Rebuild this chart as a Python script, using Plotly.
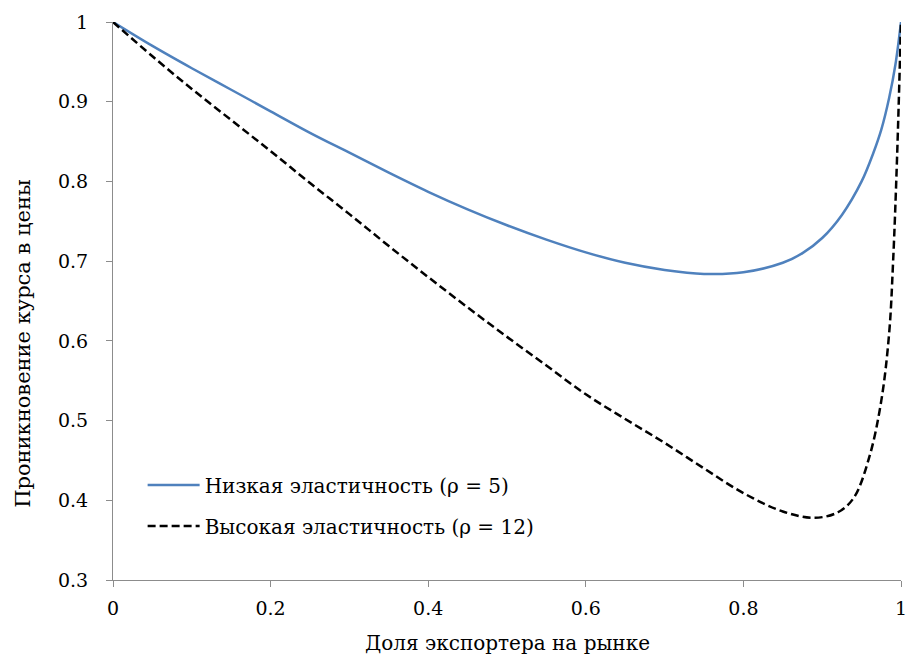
import plotly.graph_objects as go

# Series: low elasticity (rho = 5)
x_low = [0, 0.05, 0.1, 0.15, 0.2, 0.25, 0.3, 0.35, 0.4, 0.45, 0.5, 0.55, 0.6, 0.65, 0.7,
         0.75, 0.8, 0.85, 0.875, 0.9, 0.925, 0.95, 0.965, 0.975, 0.985, 0.993, 1.0]
y_low = [1.0, 0.970, 0.942, 0.915, 0.888, 0.861, 0.836, 0.811, 0.787, 0.765, 0.745, 0.727,
         0.711, 0.698, 0.689, 0.684, 0.686, 0.698, 0.710, 0.729, 0.758, 0.800, 0.836, 0.865,
         0.905, 0.947, 1.0]

# Series: high elasticity (rho = 12)
x_high = [0, 0.05, 0.1, 0.15, 0.2, 0.25, 0.3, 0.35, 0.4, 0.45, 0.5, 0.55, 0.6, 0.65, 0.7,
          0.75, 0.8, 0.85, 0.89, 0.92, 0.94, 0.96, 0.975, 0.985, 0.99, 0.995, 1.0]
y_high = [1.0, 0.957, 0.916, 0.877, 0.838, 0.798, 0.759, 0.719, 0.680, 0.642, 0.605, 0.569,
          0.533, 0.502, 0.472, 0.440, 0.409, 0.386, 0.378, 0.385, 0.403, 0.455, 0.525, 0.610,
          0.700, 0.830, 1.0]

x_ticks = [0, 0.2, 0.4, 0.6, 0.8, 1]
x_tick_labels = ["0", "0.2", "0.4", "0.6", "0.8", "1"]
y_ticks = [0.3, 0.4, 0.5, 0.6, 0.7, 0.8, 0.9, 1.0]
y_tick_labels = ["0.3", "0.4", "0.5", "0.6", "0.7", "0.8", "0.9", "1"]

names = ["Низкая эластичность (ρ = 5)", "Высокая эластичность (ρ = 12)"]
x_title = "Доля экспортера на рынке"
y_title = "Проникновение курса в цены"

FONT = "DejaVu Serif"
AXIS_COLOR = "#8c8c8c"

fig = go.Figure()
fig.add_trace(go.Scatter(x=x_low, y=y_low, mode="lines", name=names[0], legendgroup="a",
                         line=dict(color="#4f81bd", width=2.5, shape="spline", smoothing=1)))
fig.add_trace(go.Scatter(x=x_high, y=y_high, mode="lines", name=names[1], legendgroup="b",
                         line=dict(color="black", width=2.5, dash="8px,4px",
                                   shape="spline", smoothing=1)))

fig.update_layout(
    width=908, height=656,
    margin=dict(l=113, r=1, t=22, b=76),
    paper_bgcolor="white", plot_bgcolor="white",
    font=dict(family=FONT, size=19, color="black"),
    showlegend=True,
    legend=dict(x=0.0376, y=0.205, xanchor="left", yanchor="top",
                bgcolor="rgba(0,0,0,0)", font=dict(family=FONT, size=20),
                tracegroupgap=12, itemwidth=52),
    xaxis=dict(range=[0, 1], tickmode="array", tickvals=x_ticks, ticktext=x_tick_labels,
               showgrid=False, zeroline=False, showline=True, linecolor=AXIS_COLOR,
               linewidth=1, ticks="outside", ticklen=6, tickcolor=AXIS_COLOR,
               ticklabelstandoff=5, ticklabeloverflow="allow",
               tickfont=dict(family=FONT, size=19)),
    yaxis=dict(range=[0.3, 1], tickmode="array", tickvals=y_ticks, ticktext=y_tick_labels,
               showgrid=False, zeroline=False, showline=True, linecolor=AXIS_COLOR,
               linewidth=1, ticks="outside", ticklen=6, tickcolor=AXIS_COLOR,
               ticklabelstandoff=14,
               tickfont=dict(family=FONT, size=19)),
    annotations=[
        dict(text=x_title, xref="paper", yref="paper", x=0.5, y=-0.088,
             xanchor="center", yanchor="top", showarrow=False,
             font=dict(family=FONT, size=20)),
        dict(text=y_title, xref="paper", yref="paper", x=-0.132, y=0.425,
             xanchor="left", yanchor="middle", textangle=-90, showarrow=False,
             font=dict(family=FONT, size=21)),
    ],
)

fig.write_html("out.html", config={"displayModeBar": False},
               post_script="document.body.style.margin='0px';document.body.style.overflow='hidden';")
